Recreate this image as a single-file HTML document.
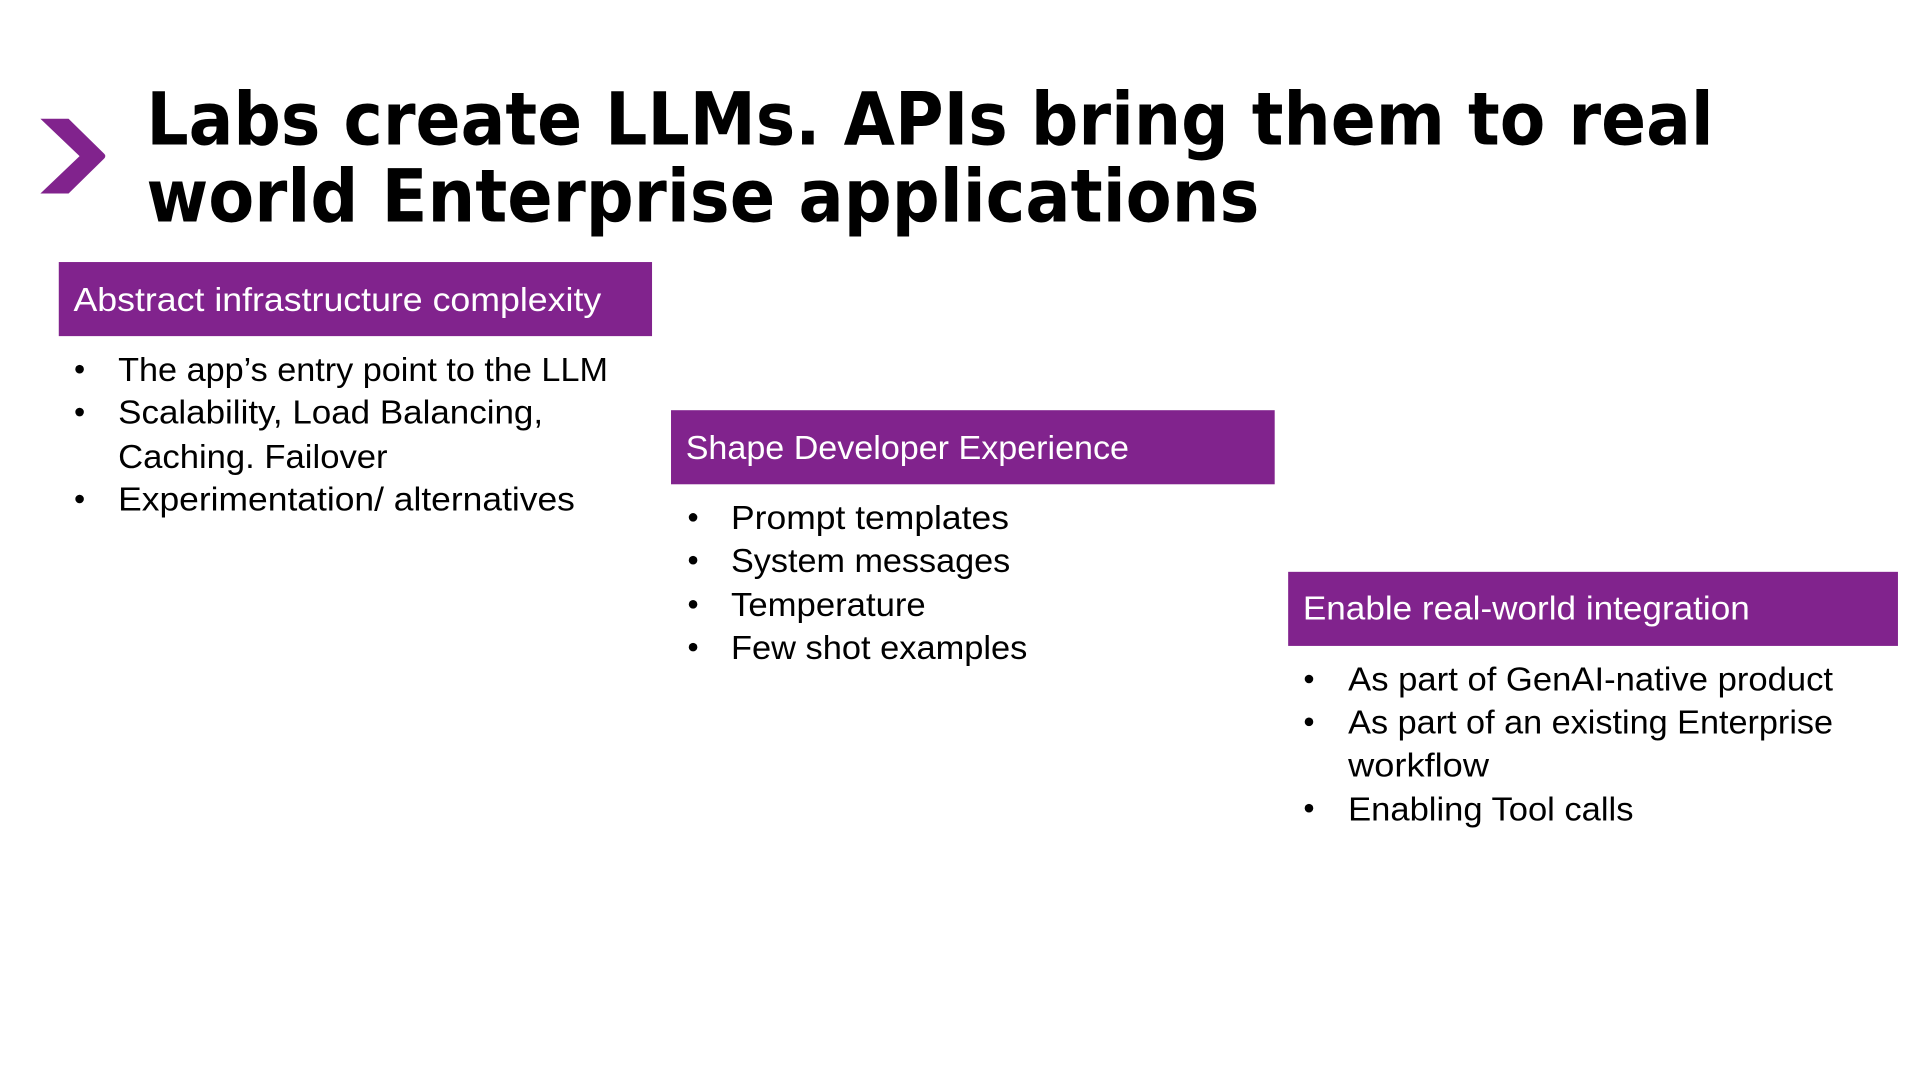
<!DOCTYPE html>
<html><head><meta charset="utf-8"><title>Labs create LLMs</title>
<style>
html,body{margin:0;padding:0;background:#fff;width:1920px;height:1080px;overflow:hidden}
svg{display:block}
.t{font-family:"DejaVu Sans",sans-serif;font-weight:700;font-size:60px;fill:#000}
.h{font-family:"Liberation Sans",sans-serif;font-size:27px;fill:#fff}
.b{font-family:"Liberation Sans",sans-serif;font-size:27.500px;fill:#000}
</style></head><body>
<svg width="1920" height="1080" viewBox="0 0 1568 882" xmlns="http://www.w3.org/2000/svg">
<rect width="1568" height="882" fill="#fff"/>
<path d="M33 97H56L85 125.500Q87 127.500 85 129.500L56 158H33L65 127.500Z" fill="#81238D"/>
<text class="t" x="119.500" y="118" textLength="1280" lengthAdjust="spacingAndGlyphs">Labs create LLMs. APIs bring them to real</text>
<text class="t" x="119.500" y="181" textLength="909" lengthAdjust="spacingAndGlyphs">world Enterprise applications</text>

<rect x="48" y="214" width="484.500" height="60.500" fill="#81238D"/>
<text class="h" x="60" y="254" textLength="431" lengthAdjust="spacingAndGlyphs">Abstract infrastructure complexity</text>
<circle cx="65" cy="301.500" r="3.500"/><text class="b" x="96.500" y="311" textLength="400" lengthAdjust="spacingAndGlyphs">The app’s entry point to the LLM</text>
<circle cx="65" cy="336.500" r="3.500"/><text class="b" x="96.500" y="346" textLength="347" lengthAdjust="spacingAndGlyphs">Scalability, Load Balancing,</text>
<text class="b" x="96.500" y="382" textLength="220" lengthAdjust="spacingAndGlyphs">Caching. Failover</text>
<circle cx="65" cy="407.500" r="3.500"/><text class="b" x="96.500" y="417" textLength="373" lengthAdjust="spacingAndGlyphs">Experimentation/ alternatives</text>

<rect x="548" y="335" width="493" height="60.500" fill="#81238D"/>
<text class="h" x="560" y="375" textLength="362" lengthAdjust="spacingAndGlyphs">Shape Developer Experience</text>
<circle cx="566" cy="422.500" r="3.500"/><text class="b" x="597" y="432" textLength="227" lengthAdjust="spacingAndGlyphs">Prompt templates</text>
<circle cx="566" cy="457.500" r="3.500"/><text class="b" x="597" y="467" textLength="228" lengthAdjust="spacingAndGlyphs">System messages</text>
<circle cx="566" cy="493.500" r="3.500"/><text class="b" x="597" y="503" textLength="159" lengthAdjust="spacingAndGlyphs">Temperature</text>
<circle cx="566" cy="528.500" r="3.500"/><text class="b" x="597" y="538" textLength="242" lengthAdjust="spacingAndGlyphs">Few shot examples</text>

<rect x="1052" y="467" width="498" height="60.500" fill="#81238D"/>
<text class="h" x="1064" y="506" textLength="365" lengthAdjust="spacingAndGlyphs">Enable real-world integration</text>
<circle cx="1069" cy="554.500" r="3.500"/><text class="b" x="1101" y="564" textLength="396" lengthAdjust="spacingAndGlyphs">As part of GenAI-native product</text>
<circle cx="1069" cy="589.500" r="3.500"/><text class="b" x="1101" y="599" textLength="396" lengthAdjust="spacingAndGlyphs">As part of an existing Enterprise</text>
<text class="b" x="1101" y="634" textLength="115" lengthAdjust="spacingAndGlyphs">workflow</text>
<circle cx="1069" cy="660" r="3.500"/><text class="b" x="1101" y="670" textLength="233" lengthAdjust="spacingAndGlyphs">Enabling Tool calls</text>
</svg>
</body></html>
